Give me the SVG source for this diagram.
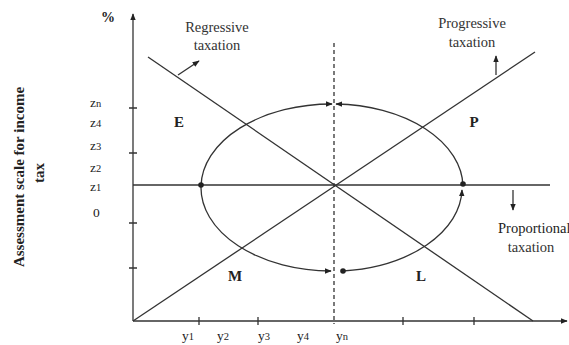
<svg xmlns="http://www.w3.org/2000/svg" width="569" height="345" viewBox="0 0 569 345">
<style>
  .ln{stroke:#333;stroke-width:1.3;fill:none}
  .t{font-family:"Liberation Serif",serif;fill:#222}
  .lbl{font-family:"Liberation Serif",serif;font-size:14.5px;fill:#333;text-anchor:middle}
  .big{font-family:"Liberation Serif",serif;font-size:15px;font-weight:bold;fill:#222;text-anchor:middle}
  .ax{font-family:"Liberation Serif",serif;font-size:13.5px;fill:#222}
  .sub{font-size:10.5px}
  .dot{fill:#222}
</style>
<defs>
  <marker id="ah" viewBox="0 0 10 10" refX="9" refY="5" markerWidth="7" markerHeight="7" markerUnits="userSpaceOnUse" orient="auto">
    <path d="M0,1 L10,5 L0,9 z" fill="#222"/>
  </marker>
</defs>
<rect width="569" height="345" fill="#fff"/>
<g id="connectors">
  <line class="ln" x1="133" y1="321" x2="133" y2="14" marker-end="url(#ah)"/>
  <line class="ln" x1="133" y1="321" x2="567" y2="321" marker-end="url(#ah)"/>
  <path class="ln" d="M129,108 H137 M129,153 H137 M129,223 H137 M129,268 H137"/>
  <path class="ln" d="M199,317 V325 M258,317 V325 M403,317 V325 M474,317 V325"/>
  <line class="ln" x1="133" y1="185" x2="550" y2="185"/>
  <line class="ln" x1="334" y1="43" x2="334" y2="324" stroke-dasharray="4,3"/>
  <line class="ln" x1="148" y1="57" x2="533" y2="321"/>
  <line class="ln" x1="133" y1="321" x2="535" y2="52"/>
  <line class="ln" x1="178" y1="75" x2="199" y2="61" marker-end="url(#ah)"/>
  <line class="ln" x1="496" y1="75" x2="496" y2="56" marker-end="url(#ah)"/>
  <line class="ln" x1="513" y1="190" x2="513" y2="210" marker-end="url(#ah)"/>
  <path class="ln" d="M201,186 A131,83.5 0 0 1 332,104" marker-end="url(#ah)"/>
  <path class="ln" d="M463,186 A131,83.5 0 0 0 336,104" marker-end="url(#ah)"/>
  <path class="ln" d="M201,186 A131,83.5 0 0 0 331,271" marker-end="url(#ah)"/>
  <path class="ln" d="M343,271 A131,83.5 0 0 0 462,190" marker-end="url(#ah)"/>
  <circle class="dot" cx="201" cy="185" r="2.8"/>
  <circle class="dot" cx="463" cy="184" r="2.8"/>
  <circle class="dot" cx="343" cy="271" r="2.8"/>
</g>
<g id="labels">
  <text class="t" x="108" y="22" font-size="14" font-weight="bold" text-anchor="middle">%</text>
  <text class="lbl" x="217" y="32">Regressive</text>
  <text class="lbl" x="217" y="50">taxation</text>
  <text class="lbl" x="472" y="28">Progressive</text>
  <text class="lbl" x="472" y="47">taxation</text>
  <text class="t" x="498" y="233" font-size="14.5">Proportional</text>
  <text class="lbl" x="531" y="252">taxation</text>
  <text class="big" x="179" y="127">E</text>
  <text class="big" x="474" y="127">P</text>
  <text class="big" x="235" y="281">M</text>
  <text class="big" x="421" y="281">L</text>
  <text class="ax" x="90" y="107">z<tspan class="sub">n</tspan></text>
  <text class="ax" x="90" y="127">z<tspan class="sub">4</tspan></text>
  <text class="ax" x="90" y="150">z<tspan class="sub">3</tspan></text>
  <text class="ax" x="90" y="172">z<tspan class="sub">2</tspan></text>
  <text class="ax" x="90" y="191">z<tspan class="sub">1</tspan></text>
  <text class="ax" x="93" y="217">0</text>
  <text class="ax" x="188" y="340" text-anchor="middle">y<tspan class="sub">1</tspan></text>
  <text class="ax" x="223" y="340" text-anchor="middle">y<tspan class="sub">2</tspan></text>
  <text class="ax" x="264" y="340" text-anchor="middle">y<tspan class="sub">3</tspan></text>
  <text class="ax" x="303" y="340" text-anchor="middle">y<tspan class="sub">4</tspan></text>
  <text class="ax" x="342" y="340" text-anchor="middle">y<tspan class="sub">n</tspan></text>
  <text class="t" font-size="15" font-weight="bold" text-anchor="middle" transform="translate(24,177) rotate(-90)">Assessment scale for income</text>
  <text class="t" font-size="15" font-weight="bold" text-anchor="middle" transform="translate(44,173) rotate(-90)">tax</text>
</g>
</svg>
